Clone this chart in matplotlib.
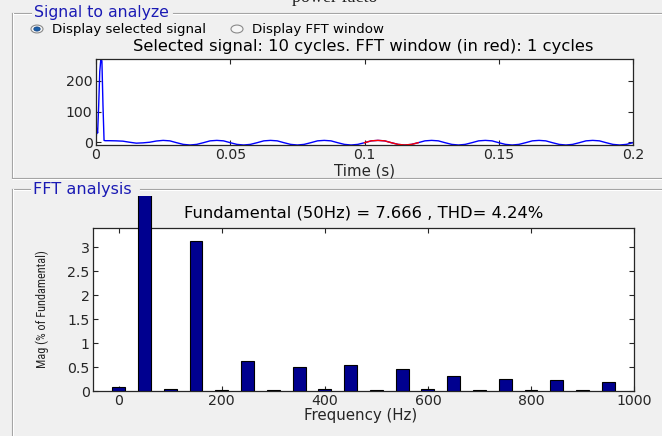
import matplotlib
matplotlib.use("Agg")
import matplotlib.pyplot as plt
from matplotlib import font_manager
from matplotlib.patches import Circle
from matplotlib.lines import Line2D
from matplotlib.transforms import Bbox, TransformedBbox
import numpy as np

# ---------------- data ----------------
# Selected signal (time in s, amplitude)
sig_time = [0.0, 0.0003, 0.0006, 0.0010, 0.0014, 0.0018, 0.0022, 0.0026, 0.0030, 0.0034,
            0.005, 0.0075, 0.010, 0.0125, 0.015, 0.0175, 0.020, 0.0225,
            0.025, 0.0275, 0.030, 0.0325, 0.035, 0.0375, 0.040, 0.0425,
            0.045, 0.0475, 0.050, 0.0525, 0.055, 0.0575, 0.060, 0.0625,
            0.065, 0.0675, 0.070, 0.0725, 0.075, 0.0775, 0.080, 0.0825,
            0.085, 0.0875, 0.090, 0.0925, 0.095, 0.0975, 0.100, 0.1025,
            0.105, 0.1075, 0.110, 0.1125, 0.115, 0.1175, 0.120, 0.1225,
            0.125, 0.1275, 0.130, 0.1325, 0.135, 0.1375, 0.140, 0.1425,
            0.145, 0.1475, 0.150, 0.1525, 0.155, 0.1575, 0.160, 0.1625,
            0.165, 0.1675, 0.170, 0.1725, 0.175, 0.1775, 0.180, 0.1825,
            0.185, 0.1875, 0.190, 0.1925, 0.195, 0.1975, 0.200]
sig_value = [0, 45, 30, 120, 230, 270, 265, 120, 6, 5,
             5, 4.5, 3.5, 0, -3, -2, 0, 4,
             6, 4.5, -1.5, -7, -9, -7, -1.5, 4.5,
             6, 4.5, -1.5, -7, -9, -7, -1.5, 4.5,
             6, 4.5, -1.5, -7, -9, -7, -1.5, 4.5,
             6, 4.5, -1.5, -7, -9, -7, -1.5, 4.5,
             6, 4.5, -1.5, -7, -9, -7, -1.5, 4.5,
             6, 4.5, -1.5, -7, -9, -7, -1.5, 4.5,
             6, 4.5, -1.5, -7, -9, -7, -1.5, 4.5,
             6, 4.5, -1.5, -7, -9, -7, -1.5, 4.5,
             6, 4.5, -1.5, -7, -9, -7, -1.5]
fft_window = [0.10, 0.12]

# FFT harmonic spectrum (% of fundamental)
freqs = [0, 50, 100, 150, 200, 250, 300, 350, 400, 450,
         500, 550, 600, 650, 700, 750, 800, 850, 900, 950]
mags = [0.08, 100.0, 0.04, 3.12, 0.02, 0.62, 0.02, 0.51, 0.035, 0.54,
        0.02, 0.46, 0.035, 0.31, 0.02, 0.25, 0.025, 0.22, 0.02, 0.18]

top_xticks = [0, 0.05, 0.1, 0.15, 0.2]
top_xticklabels = ["0", "0.05", "0.1", "0.15", "0.2"]
top_yticks = [0, 100, 200]
bot_xticks = [0, 200, 400, 600, 800, 1000]
bot_yticks = [0, 0.5, 1, 1.5, 2, 2.5, 3]
bot_yticklabels = ["0", "0.5", "1", "1.5", "2", "2.5", "3"]

top_title = "Selected signal: 10 cycles. FFT window (in red): 1 cycles"
fft_title = "Fundamental (50Hz) = 7.666 , THD= 4.24%"

# ---------------- figure ----------------
W, H = 662, 436
BG = "#f0f0f0"


def pick(fams):
    for f in fams:
        try:
            font_manager.findfont(font_manager.FontProperties(family=f), fallback_to_default=False)
            return f
        except Exception:
            pass
    return "DejaVu Sans"


NARROW = pick(["Liberation Sans Narrow", "Arial Narrow", "Roboto Condensed", "DejaVu Sans"])

plt.rcParams["font.family"] = ["DejaVu Sans"]
fig = plt.figure(figsize=(W / 100, H / 100), dpi=100, facecolor=BG)


def fx(x):
    return x / W


def fy(y):
    return 1 - y / H


def axes_px(left, top, right, bottom):
    return fig.add_axes([fx(left), fy(bottom), (right - left) / W, (bottom - top) / H])


def hline(x0, x1, y):
    fig.add_artist(Line2D([fx(x0), fx(x1)], [fy(y), fy(y)], color="#a0a0a0", lw=0.8))
    fig.add_artist(Line2D([fx(x0), fx(x1)], [fy(y + 1), fy(y + 1)], color="white", lw=0.8))


def vline(x, y0, y1):
    fig.add_artist(Line2D([fx(x), fx(x)], [fy(y0), fy(y1)], color="#a0a0a0", lw=0.8))
    fig.add_artist(Line2D([fx(x + 1), fx(x + 1)], [fy(y0), fy(y1)], color="white", lw=0.8))


# cropped document text at the very top
fig.text(fx(292), fy(2), "power facto", family="Liberation Serif", fontsize=13,
         ha="left", va="baseline", color="#222222")

# panel frames
hline(12, 31, 13)
hline(173, W, 13)
vline(12, 13, 178)
hline(12, W, 178)
hline(12, 30, 189)
hline(140, W, 189)
vline(12, 189, H)

PANEL_BLUE = "#1a1ab4"
fig.text(fx(34), fy(13), "Signal to analyze", color=PANEL_BLUE, fontsize=11.3, ha="left", va="center")
fig.text(fx(33), fy(189), "FFT analysis", color=PANEL_BLUE, fontsize=11.6, ha="left", va="center")

# radio buttons
for cx, lab, sel in [(37, "Display selected signal", True), (237, "Display FFT window", False)]:
    fig.add_artist(Circle((fx(cx), fy(29)), 6.0 / W, transform=fig.transFigure,
                          facecolor="#f6f6f6", edgecolor="#8a8a8a", lw=0.8))
    if sel:
        fig.add_artist(Circle((fx(cx), fy(29)), 3.2 / W, transform=fig.transFigure,
                              facecolor="#1c5fa8", edgecolor="#0d3f80", lw=0.5))
    fig.text(fx(cx + 15), fy(29), lab, fontsize=9.6, ha="left", va="center", color="black")

TICKFS = 10.2


def style(ax):
    ax.set_facecolor("white")
    for s in ax.spines.values():
        s.set_color("#262626")
        s.set_linewidth(0.9)
    ax.tick_params(direction="in", length=3.5, width=0.8, top=True, right=True,
                   labelsize=TICKFS, colors="#262626", pad=2.5)


# ---- top axes: signal ----
ax1 = axes_px(96, 59, 633, 145)
style(ax1)
t = np.asarray(sig_time)
v = np.asarray(sig_value)
ax1.plot(t, v, color="blue", lw=1.0)
m = (t >= fft_window[0] - 1e-9) & (t <= fft_window[1] + 1e-9)
ax1.plot(t[m], v[m], color="red", lw=1.0)
ax1.set_xlim(0, 0.2)
ax1.set_ylim(-9, 271)
ax1.set_xticks(top_xticks)
ax1.set_xticklabels(top_xticklabels)
ax1.set_yticks(top_yticks)
fig.text(fx(363), fy(46), top_title, fontsize=11.8, ha="center", va="center", color="black")
fig.text(fx(365), fy(171.5), "Time (s)", fontsize=10.8, ha="center", va="center", color="#262626")

# ---- bottom axes: FFT ----
ax2 = axes_px(93, 228, 634, 391)
style(ax2)
bars = ax2.bar(freqs, mags, width=25, color="#00008f", edgecolor="black", linewidth=0.8, zorder=3)
ax2.set_xlim(-50, 1000)
ax2.set_ylim(0, 3.4)
ax2.set_xticks(bot_xticks)
ax2.set_yticks(bot_yticks)
ax2.set_yticklabels(bot_yticklabels)
clip = TransformedBbox(Bbox.from_extents(fx(60), fy(391), fx(650), fy(196)), fig.transFigure)
for b in bars:
    b.set_clip_on(True)
    b.set_clip_box(clip)
    b.set_clip_path(None)
fig.text(fx(364), fy(213), fft_title, fontsize=11.8, ha="center", va="center", color="black")
fig.text(fx(361), fy(415), "Frequency (Hz)", fontsize=10.8, ha="center", va="center", color="#262626")
fig.text(fx(42), fy(309.5), "Mag (% of Fundamental)", family=NARROW, fontsize=8.8,
         rotation=90, ha="center", va="center", color="#262626")

fig.savefig("out.png", dpi=100, facecolor=BG)
